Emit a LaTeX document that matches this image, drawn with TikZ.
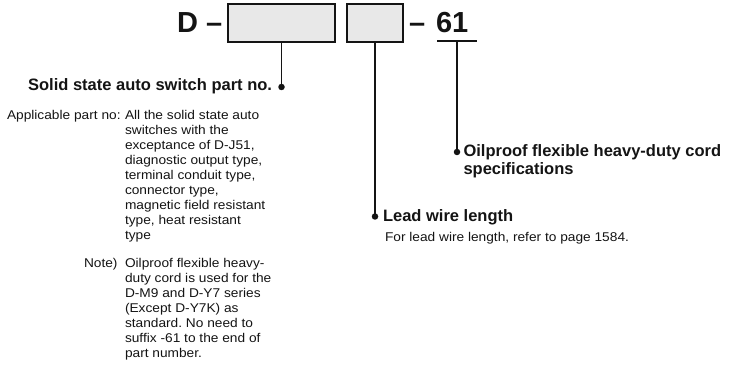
\documentclass[tikz,border=0pt]{standalone}
\usepackage{fontspec}
\setmainfont{Liberation Sans}
\newfontfamily\bodyfont[FakeStretch=1.08]{Liberation Sans}
\frenchspacing
\definecolor{boxgray}{HTML}{E8E8E8}
\definecolor{ink}{HTML}{141414}
\begin{document}
\begin{tikzpicture}[x=1pt,y=-1pt,
  every node/.style={inner sep=0pt,outer sep=0pt,text=ink},
  bigtxt/.style={font=\fontsize{29}{30}\selectfont\bfseries},
  headtxt/.style={font=\fontsize{16.5}{17.5}\selectfont\bfseries,align=left},
  bodytxt/.style={font=\bodyfont\fontsize{12.7}{15}\selectfont\frenchspacing,align=left},
  codebox/.style={draw=ink,fill=boxgray,line width=1.1pt},
  leader/.style={draw=ink,line width=1.2pt},
  pin/.style={circle,fill=ink,minimum size=6.5pt,inner sep=0pt}]
\useasboundingbox (0,0) rectangle (729,366);
% code line
\node[bigtxt,anchor=base west] (d) at (177,33) {D};
\node[bigtxt,anchor=base west] (dash1) at (206,33) {–};
\path[codebox] (228,4) rectangle (335,42);
\coordinate (b1s) at (281.5,42);
\path[codebox] (347,4) rectangle (403,42);
\coordinate (b2s) at (375,42);
\node[bigtxt,anchor=base west] (dash2) at (409,33) {–};
\node[bigtxt,anchor=base west] (sixone) at (436,33) {61};
\coordinate (ulL) at (437,41);
\coordinate (ulR) at (477,41);
\coordinate (ulM) at (457,41);
\draw[leader] (ulL) -- (ulR);
% pins
\node[pin] (p1) at (281.5,87) {};
\node[pin] (p2) at (375,216.5) {};
\node[pin] (p3) at (457,152) {};
\draw[leader] (b1s) -- (p1.center);
\draw[leader] (b2s) -- (p2.center);
\draw[leader] (ulM) -- (p3.center);
% labels (base anchor = baseline of last line)
\node[headtxt,anchor=base east] (h1) at (272,91) {Solid state auto switch part no.};
\node[bodytxt,anchor=base west] (app) at (7,120) {Applicable part no:};
\node[bodytxt,anchor=base west] (appt) at (125,240) {All the solid state auto\\switches with the\\exceptance of D-J51,\\diagnostic output type,\\terminal conduit type,\\connector type,\\magnetic field resistant\\type, heat resistant\\type};
\node[bodytxt,anchor=base west] (note) at (84,268) {Note)};
\node[bodytxt,anchor=base west] (notet) at (125,358) {Oilproof flexible heavy-\\duty cord is used for the\\D-M9 and D-Y7 series\\(Except D-Y7K) as\\standard. No need to\\suffix -61 to the end of\\part number.};
\node[headtxt,anchor=base west] (h3) at (463.5,174.5) {Oilproof flexible heavy-duty cord\\specifications};
\node[headtxt,anchor=base west] (h2) at (383,222) {Lead wire length};
\node[bodytxt,anchor=base west] (lw) at (385,242) {For lead wire length, refer to page 1584.};
\end{tikzpicture}
\end{document}
